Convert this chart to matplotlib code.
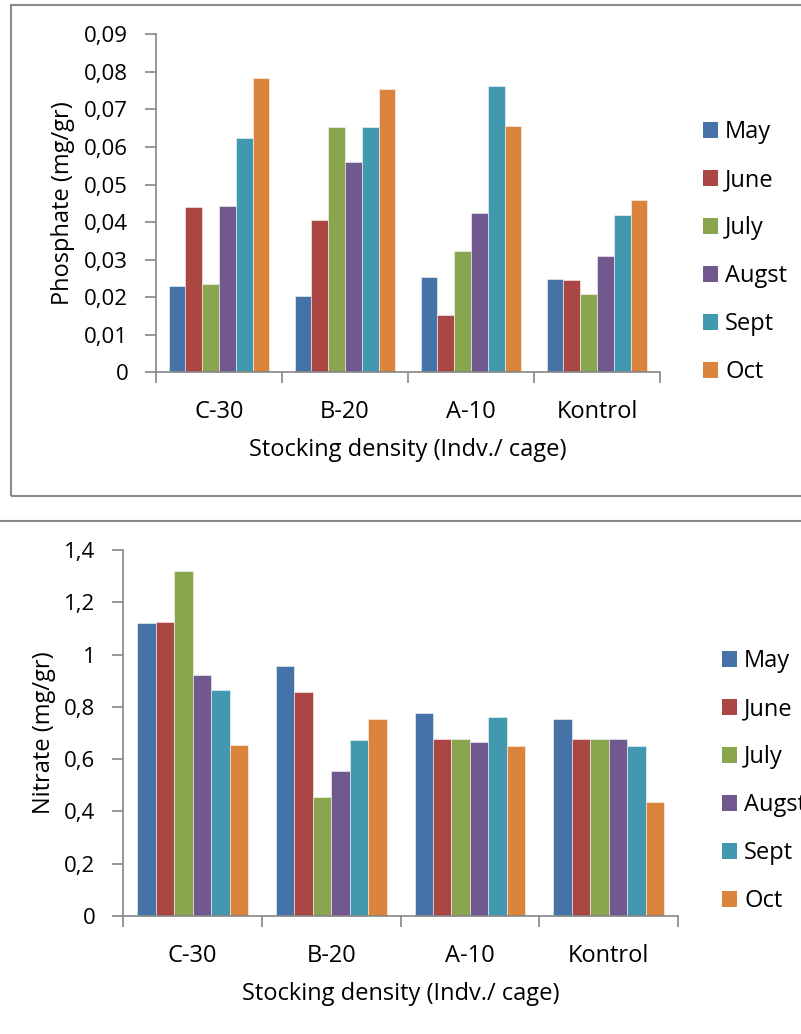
import matplotlib
matplotlib.use("Agg")
import matplotlib.pyplot as plt
from matplotlib.patches import Rectangle
from matplotlib.lines import Line2D
import numpy as np

plt.rcParams['font.family'] = ['Open Sans', 'DejaVu Sans']

categories = ["C-30", "B-20", "A-10", "Kontrol"]
months = ["May", "June", "July", "Augst", "Sept", "Oct"]
colors = ["#4572A7", "#AA4643", "#89A54E", "#71588F", "#4198AF", "#DB843D"]

# Phosphate (mg/gr): rows = months, columns = categories
phosphate = {
    "May":   [0.0231, 0.0203, 0.0253, 0.0248],
    "June":  [0.0441, 0.0405, 0.0152, 0.0245],
    "July":  [0.0234, 0.0652, 0.0323, 0.0209],
    "Augst": [0.0443, 0.0561, 0.0424, 0.0310],
    "Sept":  [0.0623, 0.0652, 0.0762, 0.0419],
    "Oct":   [0.0783, 0.0754, 0.0656, 0.0458],
}
# Nitrate (mg/gr)
nitrate = {
    "May":   [1.120, 0.957, 0.778, 0.755],
    "June":  [1.126, 0.857, 0.678, 0.678],
    "July":  [1.320, 0.456, 0.676, 0.678],
    "Augst": [0.921, 0.553, 0.665, 0.678],
    "Sept":  [0.866, 0.673, 0.763, 0.650],
    "Oct":   [0.655, 0.752, 0.650, 0.437],
}
phos_ticks = [0, 0.01, 0.02, 0.03, 0.04, 0.05, 0.06, 0.07, 0.08, 0.09]
phos_ticklabels = ["0", "0,01", "0,02", "0,03", "0,04", "0,05", "0,06", "0,07", "0,08", "0,09"]
nit_ticks = [0, 0.2, 0.4, 0.6, 0.8, 1.0, 1.2, 1.4]
nit_ticklabels = ["0", "0,2", "0,4", "0,6", "0,8", "1", "1,2", "1,4"]
xlabel = "Stocking density (Indv./ cage)"

W, H = 801, 1034
fig = plt.figure(figsize=(W / 100, H / 100), dpi=100)

def px_axes(left, top, right, bottom):
    return fig.add_axes([left / W, 1 - bottom / H, (right - left) / W, (bottom - top) / H])

FS = 17
FS_Y = 16
GRAY = "#868686"

def draw(ax, data, ticks, ticklabels, ylabel, ylab_x, legend_pos):
    n = len(months)
    w = 1 / 7.5
    x = np.arange(len(categories))
    handles = []
    for i, m in enumerate(months):
        ax.bar(x + (i - (n - 1) / 2) * w, data[m], width=w, color=colors[i],
               edgecolor=(1, 1, 1, 0.6), linewidth=0.6, label=m, zorder=2)
        handles.append(Rectangle((0, 0), 1, 1, facecolor=colors[i], edgecolor='none'))
    ax.set_xlim(-0.5, len(categories) - 0.5)
    ax.set_ylim(ticks[0], ticks[-1])
    ax.set_yticks(ticks)
    ax.set_yticklabels(ticklabels, fontsize=FS_Y)
    ax.set_xticks(x)
    ax.set_xticklabels(categories, fontsize=FS)
    ax.set_xticks(np.arange(len(categories) + 1) - 0.5, minor=True)
    ax.tick_params(axis='x', which='major', length=0, pad=20)
    ax.tick_params(axis='x', which='minor', length=8, width=1.2, color=GRAY, direction='out')
    ax.tick_params(axis='y', length=8, width=1.2, color=GRAY, direction='out', pad=12)
    for s in ['top', 'right']:
        ax.spines[s].set_visible(False)
    for s in ['left', 'bottom']:
        ax.spines[s].set_color(GRAY)
        ax.spines[s].set_linewidth(1.2)
    ax.set_xlabel(xlabel, fontsize=FS, labelpad=10)
    ax.set_ylabel(ylabel, fontsize=FS, va='center')
    ax.yaxis.set_label_coords(ylab_x, 0.5)
    lx, ly = legend_pos
    fig.legend(handles, months, loc='upper left', bbox_to_anchor=(lx / W, 1 - ly / H),
               bbox_transform=fig.transFigure, frameon=False, fontsize=FS,
               handlelength=0.64, handleheight=0.64, handletextpad=0.3,
               labelspacing=1.02, borderpad=0, borderaxespad=0)

ax1 = px_axes(156, 34.3, 660, 372.3)
draw(ax1, phosphate, phos_ticks, phos_ticklabels, "Phosphate (mg/gr)", (63 - 156) / 504, (703, 120))

ax2 = px_axes(123.3, 550, 678, 916)
draw(ax2, nitrate, nit_ticks, nit_ticklabels, "Nitrate (mg/gr)", (44 - 123.3) / 554.7, (722, 649))

# chart borders
fig.add_artist(Rectangle((10.5 / W, 1 - 495.5 / H), (W + 5) / W, 490 / H, transform=fig.transFigure,
                         fill=False, edgecolor="#8a8a8a", linewidth=1.5))
fig.add_artist(Line2D([0, 1], [1 - 520.7 / H, 1 - 520.7 / H], transform=fig.transFigure,
                      color="#8a8a8a", linewidth=1.5))

fig.savefig("out.png", dpi=100)
